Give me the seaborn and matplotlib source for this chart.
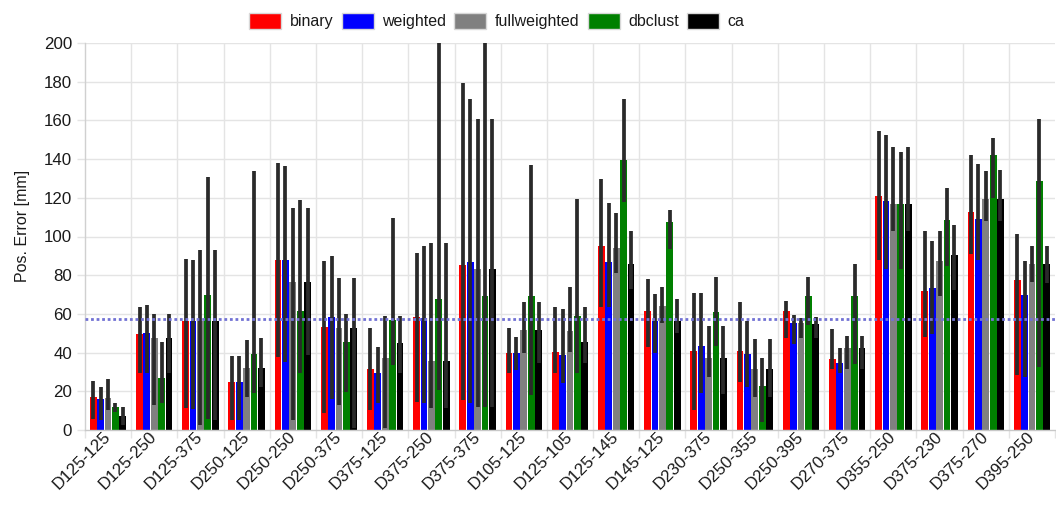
import numpy as np
import pandas as pd
import matplotlib
matplotlib.use("Agg")
import matplotlib.pyplot as plt
from matplotlib.ticker import FixedLocator
from matplotlib.patches import Patch
import seaborn as sns

categories = ["D125-125", "D125-250", "D125-375", "D250-125", "D250-250", "D250-375",
              "D375-125", "D375-250", "D375-375", "D105-125", "D125-105", "D125-145",
              "D145-125", "D230-375", "D250-355", "D250-395", "D270-375", "D355-250",
              "D375-230", "D375-270", "D395-250"]
series_names = ["binary", "weighted", "fullweighted", "dbclust", "ca"]

binary = [17.2, 49.5, 56.4, 24.7, 87.9, 53.4, 31.4, 58.3, 85.4, 40.0, 40.5, 95.3, 61.6, 41.0, 41.0, 61.7, 36.7, 120.7, 71.9, 112.9, 77.6]
binary_lo = [5.5, 29.3, 11.2, 5.2, 37.9, 9.0, 10.3, 14.6, 15.5, 29.3, 29.3, 63.8, 42.8, 10.3, 25.0, 47.4, 31.6, 87.9, 48.0, 91.0, 28.5]
binary_hi = [25.3, 63.5, 88.5, 38.3, 138.0, 87.4, 52.6, 91.7, 179.4, 52.6, 63.8, 129.7, 78.0, 70.7, 66.4, 66.9, 52.1, 154.3, 102.9, 142.3, 101.2]

weighted = [16.0, 50.0, 56.4, 24.7, 87.9, 58.6, 29.6, 57.7, 86.8, 40.0, 38.8, 86.6, 56.4, 43.5, 39.2, 55.5, 34.8, 118.1, 73.6, 109.2, 69.8]
weighted_lo = [5.2, 29.3, 11.0, 5.2, 35.3, 15.9, 14.1, 14.1, 13.8, 31.0, 24.2, 63.5, 40.0, 19.3, 22.1, 44.5, 29.3, 83.1, 49.7, 87.9, 27.6]
weighted_hi = [22.4, 64.7, 88.0, 38.3, 136.6, 89.7, 43.1, 95.2, 171.2, 48.3, 62.4, 117.3, 70.4, 70.7, 56.4, 59.5, 42.6, 152.6, 97.8, 137.6, 87.1]

fullweighted = [16.7, 47.4, 56.4, 31.9, 76.7, 52.6, 37.4, 35.7, 83.1, 51.7, 51.2, 94.3, 64.1, 37.4, 31.4, 55.2, 42.3, 116.9, 87.4, 119.3, 85.7]
fullweighted_lo = [10.3, 12.9, 2.6, 17.2, 5.0, 12.9, 1.0, 11.2, 12.1, 39.7, 40.5, 81.1, 55.2, 27.6, 17.2, 47.5, 31.6, 103.1, 69.0, 108.1, 76.7]
fullweighted_hi = [26.4, 60.0, 92.8, 46.6, 114.5, 78.5, 59.1, 96.6, 160.7, 66.4, 73.8, 112.1, 73.8, 53.8, 47.1, 58.0, 48.6, 146.2, 103.1, 134.1, 95.2]

dbclust = [12.1, 27.1, 69.8, 39.3, 61.6, 45.7, 56.9, 67.6, 69.3, 69.3, 59.0, 139.7, 107.4, 60.9, 22.8, 69.5, 69.5, 116.9, 108.3, 141.9, 128.5]
dbclust_lo = [9.5, 14.1, 5.5, 19.0, 29.3, 19.8, 33.6, 20.7, 12.0, 18.1, 29.3, 117.6, 93.5, 43.5, 4.3, 54.3, 34.0, 83.1, 84.5, 119.9, 32.7]
dbclust_hi = [13.8, 45.7, 130.5, 133.6, 119.0, 60.0, 109.5, 210.0, 210.0, 136.7, 119.5, 171.1, 113.8, 79.3, 37.1, 79.3, 85.7, 143.5, 125.0, 150.9, 160.7]

ca = [7.4, 47.4, 56.4, 31.9, 76.7, 52.6, 44.9, 35.7, 83.1, 51.7, 45.4, 85.7, 56.4, 37.4, 31.4, 54.8, 42.3, 116.9, 90.2, 119.3, 85.7]
ca_lo = [2.6, 29.3, 5.0, 22.4, 38.8, 1.0, 29.3, 11.2, 12.1, 34.5, 34.5, 72.8, 50.0, 18.8, 17.2, 47.4, 31.6, 103.1, 72.1, 108.0, 76.0]
ca_hi = [12.1, 60.0, 92.8, 47.4, 114.5, 78.5, 59.1, 96.6, 160.7, 66.4, 63.5, 103.1, 67.6, 53.8, 47.1, 58.3, 48.6, 146.2, 105.7, 134.5, 95.2]

reference_level = 57.4
y_ticks = list(range(0, 201, 20))

colors = {"binary": "#ff0000", "weighted": "#0000ff", "fullweighted": "#808080",
          "dbclust": "#008000", "ca": "#000000"}

vals = [binary, weighted, fullweighted, dbclust, ca]
los = [binary_lo, weighted_lo, fullweighted_lo, dbclust_lo, ca_lo]
his = [binary_hi, weighted_hi, fullweighted_hi, dbclust_hi, ca_hi]

rows = []
for name, v in zip(series_names, vals):
    for c, val in zip(categories, v):
        rows.append({"cat": c, "series": name, "value": val})
df = pd.DataFrame(rows)

sns.set_theme(style="white")
plt.rcParams["font.family"] = ["Liberation Sans", "DejaVu Sans"]
TXT = "#1a1a1a"
GRID = "#e4e4e4"
FS = 11.5
TFS = 12.2

fig = plt.figure(figsize=(10.56, 5.07), dpi=100)
ax = fig.add_axes([85 / 1056, 77 / 507, 970 / 1056, 387 / 507])

sns.barplot(data=df, x="cat", y="value", hue="series", order=categories,
            hue_order=series_names, palette=colors, saturation=1, errorbar=None,
            width=0.8, gap=0.08, linewidth=0, ax=ax, legend=False, zorder=2)

for cont, lo, hi in zip(ax.containers, los, his):
    xs = [b.get_x() + b.get_width() / 2 for b in cont]
    ax.vlines(xs, lo, hi, colors="#2a2a2a", linewidth=2.7, zorder=3)

ax.axhline(reference_level, color="#7272d4", linestyle=(0, (1.0, 1.0)), linewidth=2.0, zorder=4)

ax.set_ylim(0, 200)
ax.set_xlim(-0.5, len(categories) - 0.5)
ax.yaxis.set_major_locator(FixedLocator(y_ticks))
ax.set_xticks(range(len(categories)))
ax.set_xticklabels(categories)
ax.xaxis.set_minor_locator(FixedLocator(np.arange(-0.5, len(categories), 1.0)))

ax.grid(False)
for y in y_ticks[1:]:
    ax.axhline(y, color=GRID, linewidth=1, zorder=0)
for xb in np.arange(0.5, len(categories) - 0.5, 1.0):
    ax.axvline(xb, color=GRID, linewidth=1, zorder=0)

for s in ["top", "right"]:
    ax.spines[s].set_visible(False)
ax.spines["left"].set_color("#d0d0d0")
ax.spines["bottom"].set_color("#c8c8c8")
ax.spines["left"].set_linewidth(1)
ax.spines["bottom"].set_linewidth(1)

ax.tick_params(axis="y", length=5.8, width=1, color=GRID, pad=3.4, labelsize=TFS, labelcolor=TXT, left=True)
ax.tick_params(axis="x", which="major", length=0, pad=3, labelsize=TFS, labelcolor=TXT)
ax.tick_params(axis="x", which="minor", length=5.8, width=1, color=GRID, bottom=True)
for lab in ax.get_xticklabels():
    lab.set_rotation(45)
    lab.set_ha("right")
    lab.set_va("center")
    lab.set_rotation_mode("anchor")

ax.set_xlabel("")
ax.set_ylabel("Pos. Error [mm]", fontsize=FS, color=TXT)
ax.yaxis.set_label_coords(-0.0567, 0.527)

handles = [Patch(facecolor=colors[n], edgecolor="#d8d8d8", linewidth=1, label=n) for n in series_names]
fig.legend(handles=handles, loc="center", bbox_to_anchor=(497 / 1056, 486 / 507), ncol=5,
           frameon=False, fontsize=FS, handlelength=2.0, handleheight=1.13,
           handletextpad=0.55, columnspacing=0.5, labelcolor=TXT, borderpad=0)

fig.savefig("out.png", dpi=100)
